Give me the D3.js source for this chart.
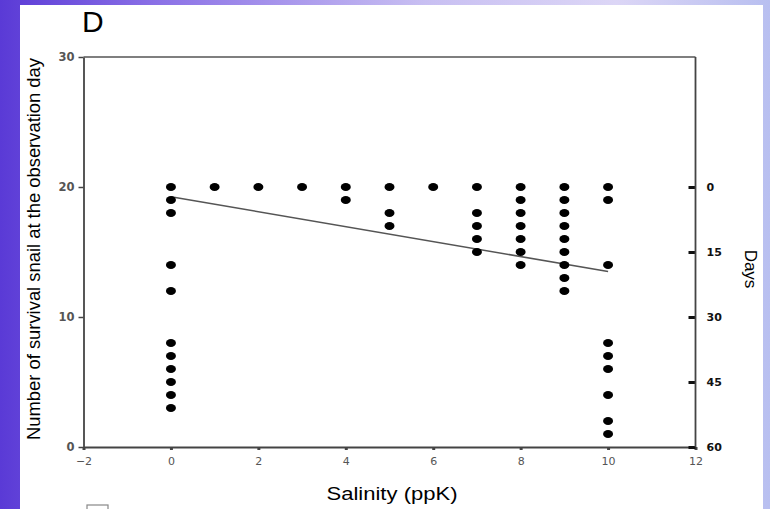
<!DOCTYPE html>
<html><head><meta charset="utf-8">
<script src="https://cdn.jsdelivr.net/npm/d3@7"></script>
<style>
html,body{margin:0;padding:0;}
body{width:770px;height:509px;overflow:hidden;background:linear-gradient(to right,#5a3ad6 0%,#8a70e6 20%,#c8bff2 55%,#dcd6f6 80%,#b8bff0 100%);}
svg{display:block;}
</style></head><body>
<svg id="c" width="770" height="509"></svg>
<script>
// Data: salinity (ppK) and number of surviving snails
const salinity0 = [0,0,0,0,0,0,0,0,0,0,0];
const survival0 = [20,19,18,14,12,8,7,6,5,4,3];
const salinityMid = [1,2,3,4,4,5,5,5,6];
const survivalMid = [20,20,20,20,19,20,18,17,20];
const salinity7 = [7,7,7,7,7];
const survival7 = [20,18,17,16,15];
const salinity8 = [8,8,8,8,8,8,8];
const survival8 = [20,19,18,17,16,15,14];
const salinity9 = [9,9,9,9,9,9,9,9,9];
const survival9 = [20,19,18,17,16,15,14,13,12];
const salinity10 = [10,10,10,10,10,10,10,10,10];
const survival10 = [20,19,14,8,7,6,4,2,1];
const fitX = [0,10];
const fitY = [19.25,13.5];
const xTicks = [-2,0,2,4,6,8,10,12];
const yTicks = [0,10,20,30];
const dayTicks = [0,15,30,45,60];

const xs = [].concat(salinity0,salinityMid,salinity7,salinity8,salinity9,salinity10);
const ys = [].concat(survival0,survivalMid,survival7,survival8,survival9,survival10);
const points = xs.map((x,i)=>({x:x,y:ys[i]}));

const svg = d3.select("#c");
// white panel
svg.append("rect").attr("x",20).attr("y",5).attr("width",743).attr("height",504).attr("fill","#ffffff");

const x = d3.scaleLinear().domain([-2,12]).range([83.5,695.5]);
const y = d3.scaleLinear().domain([0,30]).range([447,57]);
const days = d3.scaleLinear().domain([0,60]).range([y(20),y(0)]);

const axisColor = "#444";
const tickFont = "DejaVu Sans, Verdana, sans-serif";
// frame top
svg.append("line").attr("x1",x(-2)).attr("x2",x(12)).attr("y1",y(30)).attr("y2",y(30)).attr("stroke","#555").attr("stroke-width",1.5);

// left axis
const gl = svg.append("g").attr("transform",`translate(${x(-2)},0)`).call(d3.axisLeft(y).tickValues(yTicks).tickSize(5).tickPadding(4).tickSizeOuter(0));
gl.select(".domain").attr("stroke",axisColor).attr("stroke-width",1.8);
gl.selectAll(".tick line").attr("stroke",axisColor).attr("stroke-width",1.5);
gl.selectAll(".tick text").attr("font-family",tickFont).attr("font-size",11.5).attr("font-weight","bold").attr("fill","#555");

// bottom axis
const gb = svg.append("g").attr("transform",`translate(0,${y(0)})`).call(d3.axisBottom(x).tickValues(xTicks).tickSize(3).tickPadding(7).tickSizeOuter(0).tickFormat(d3.format("d")));
gb.select(".domain").attr("stroke",axisColor).attr("stroke-width",1.8);
gb.selectAll(".tick line").attr("stroke",axisColor).attr("stroke-width",3);
gb.selectAll(".tick text").attr("font-family",tickFont).attr("font-size",11).attr("fill","#555");

// right axis (Days)
const gr = svg.append("g").attr("transform",`translate(${x(12)},0)`).call(d3.axisRight(days).tickValues(dayTicks).tickSize(-7).tickPadding(11).tickSizeOuter(0));
gr.select(".domain").remove();
svg.append("line").attr("x1",x(12)).attr("x2",x(12)).attr("y1",y(30)).attr("y2",y(0)).attr("stroke",axisColor).attr("stroke-width",1.8);
gr.selectAll(".tick line").attr("stroke","#111").attr("stroke-width",3);
gr.selectAll(".tick text").attr("font-family",tickFont).attr("font-size",11).attr("font-weight","bold").attr("fill","#111");

// fit line
svg.append("line").attr("x1",x(fitX[0])).attr("y1",y(fitY[0])).attr("x2",x(fitX[1])).attr("y2",y(fitY[1])).attr("stroke","#555").attr("stroke-width",1.6);

// points
svg.append("g").selectAll("ellipse").data(points).join("ellipse")
  .attr("cx",d=>x(d.x)).attr("cy",d=>y(d.y)).attr("rx",5).attr("ry",4).attr("fill","#000");

// labels
const font = "Liberation Sans, Arial, sans-serif";
svg.append("text").attr("x",82).attr("y",32).attr("font-family",font).attr("font-size",30).attr("fill","#000").text("D");
svg.append("text").attr("transform",`translate(40,249) rotate(-90)`).attr("text-anchor","middle")
  .attr("font-family",font).attr("font-size",17.5).attr("textLength",382).attr("lengthAdjust","spacingAndGlyphs").attr("fill","#000").text("Number of survival snail at the observation day");
svg.append("text").attr("transform",`translate(745,269) rotate(90)`).attr("text-anchor","middle")
  .attr("font-family",font).attr("font-size",17).attr("fill","#000").text("Days");
svg.append("text").attr("x",392).attr("y",500).attr("text-anchor","middle")
  .attr("font-family",font).attr("font-size",17.5).attr("textLength",131).attr("lengthAdjust","spacingAndGlyphs").attr("fill","#000").text("Salinity (ppK)");
// small box at bottom-left
svg.append("rect").attr("x",87).attr("y",505).attr("width",21).attr("height",8).attr("fill","none").attr("stroke","#888").attr("stroke-width",1.2);
</script>
</body></html>
